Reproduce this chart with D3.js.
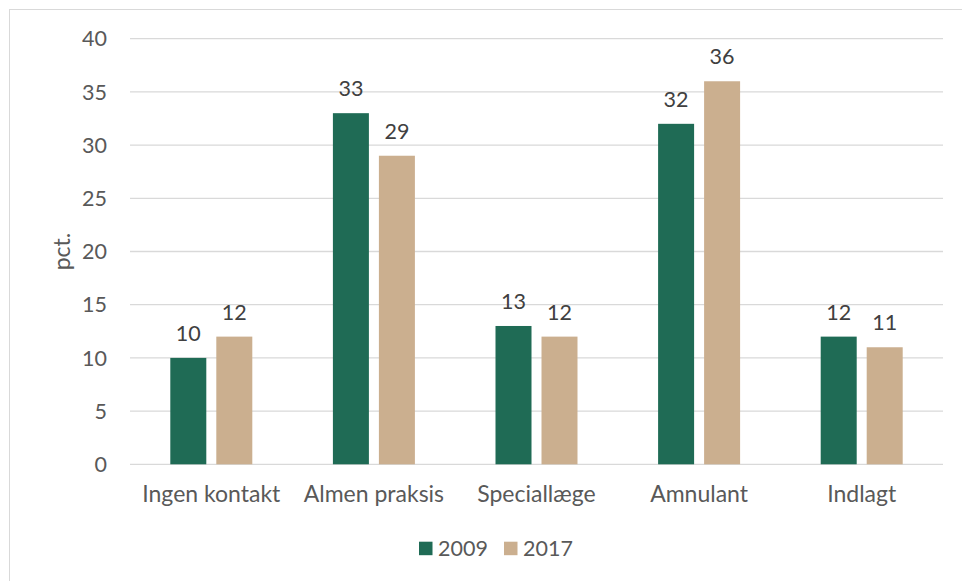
<!DOCTYPE html>
<html><head><meta charset="utf-8">
<script src="https://cdn.jsdelivr.net/npm/d3@7"></script>
<style>html,body{margin:0;padding:0;background:#fff;}svg{display:block;}</style>
</head><body>
<script>
const categories = ["Ingen kontakt", "Almen praksis", "Speciallæge", "Amnulant", "Indlagt"];
const seriesNames = ["2009", "2017"];
const values2009 = [10, 33, 13, 32, 12];
const values2017 = [12, 29, 12, 36, 11];
const yTicks = [0, 5, 10, 15, 20, 25, 30, 35, 40];
const colors = ["#1F6B55", "#CBAF8F"];

(function () {
const W = 962, H = 581;
const svg = d3.select("body").append("svg").attr("width", W).attr("height", H);
const font = "Lato, 'Open Sans', sans-serif";

// chart frame
svg.append("rect").attr("x", 9.5).attr("y", 9.5).attr("width", W + 20).attr("height", H + 20)
  .attr("fill", "none").attr("stroke", "#d9d9d9").attr("stroke-width", 1);

const pl = 130, pr = 943, pt = 38.7, pb = 464.3;
const y = d3.scaleLinear().domain([0, 40]).range([pb, pt]);
const x0 = d3.scaleBand().domain(categories).range([pl, pr]).paddingInner(0.4957).paddingOuter(0.4957 / 2);
const x1 = d3.scaleBand().domain(seriesNames).range([0, x0.bandwidth()]).paddingInner(0.2174).paddingOuter(0);

// gridlines
svg.append("g").selectAll("line").data(yTicks).join("line")
  .attr("x1", pl).attr("x2", pr)
  .attr("y1", d => y(d)).attr("y2", d => y(d))
  .attr("stroke", "#d9d9d9").attr("stroke-width", 1.3);

// y tick labels
svg.append("g").selectAll("text").data(yTicks).join("text")
  .attr("x", 107).attr("y", d => y(d)).attr("dy", "0.36em")
  .attr("text-anchor", "end").attr("font-family", font).attr("font-size", 21.5)
  .attr("fill", "#595959").text(d => d);

// y title
svg.append("text").attr("transform", `translate(62,${(pt + pb) / 2}) rotate(-90)`)
  .attr("text-anchor", "middle").attr("dy", "0.35em")
  .attr("font-family", font).attr("font-size", 23).attr("fill", "#595959").text("pct.");

const data = categories.map((c, i) => ({ cat: c, vals: [values2009[i], values2017[i]] }));

const groups = svg.append("g").selectAll("g").data(data).join("g")
  .attr("transform", d => `translate(${x0(d.cat)},0)`);

groups.selectAll("rect").data(d => d.vals.map((v, j) => ({ v, s: seriesNames[j], j })))
  .join("rect")
  .attr("x", d => x1(d.s)).attr("width", x1.bandwidth())
  .attr("y", d => y(d.v)).attr("height", d => y(0) - y(d.v))
  .attr("fill", d => colors[d.j]);

groups.selectAll("text").data(d => d.vals.map((v, j) => ({ v, s: seriesNames[j], j })))
  .join("text")
  .attr("x", d => x1(d.s) + x1.bandwidth() / 2).attr("y", d => y(d.v) - 17)
  .attr("text-anchor", "middle").attr("font-family", font).attr("font-size", 21.5)
  .attr("fill", "#404040").text(d => d.v);

// x labels
svg.append("g").selectAll("text").data(categories).join("text")
  .attr("x", d => x0(d) + x0.bandwidth() / 2).attr("y", 502)
  .attr("text-anchor", "middle").attr("font-family", font).attr("font-size", 23)
  .attr("fill", "#595959").text(d => d);

// legend
const legendX = [419, 504];
const lg = svg.append("g").selectAll("g").data(seriesNames).join("g")
  .attr("transform", (d, i) => `translate(${legendX[i]},541.7)`);
lg.append("rect").attr("width", 13.5).attr("height", 13.5).attr("fill", (d, i) => colors[i]);
lg.append("text").attr("x", 19).attr("y", 14.5).attr("font-family", font).attr("font-size", 21.5)
  .attr("fill", "#595959").text(d => d);
})();
</script>
</body></html>
